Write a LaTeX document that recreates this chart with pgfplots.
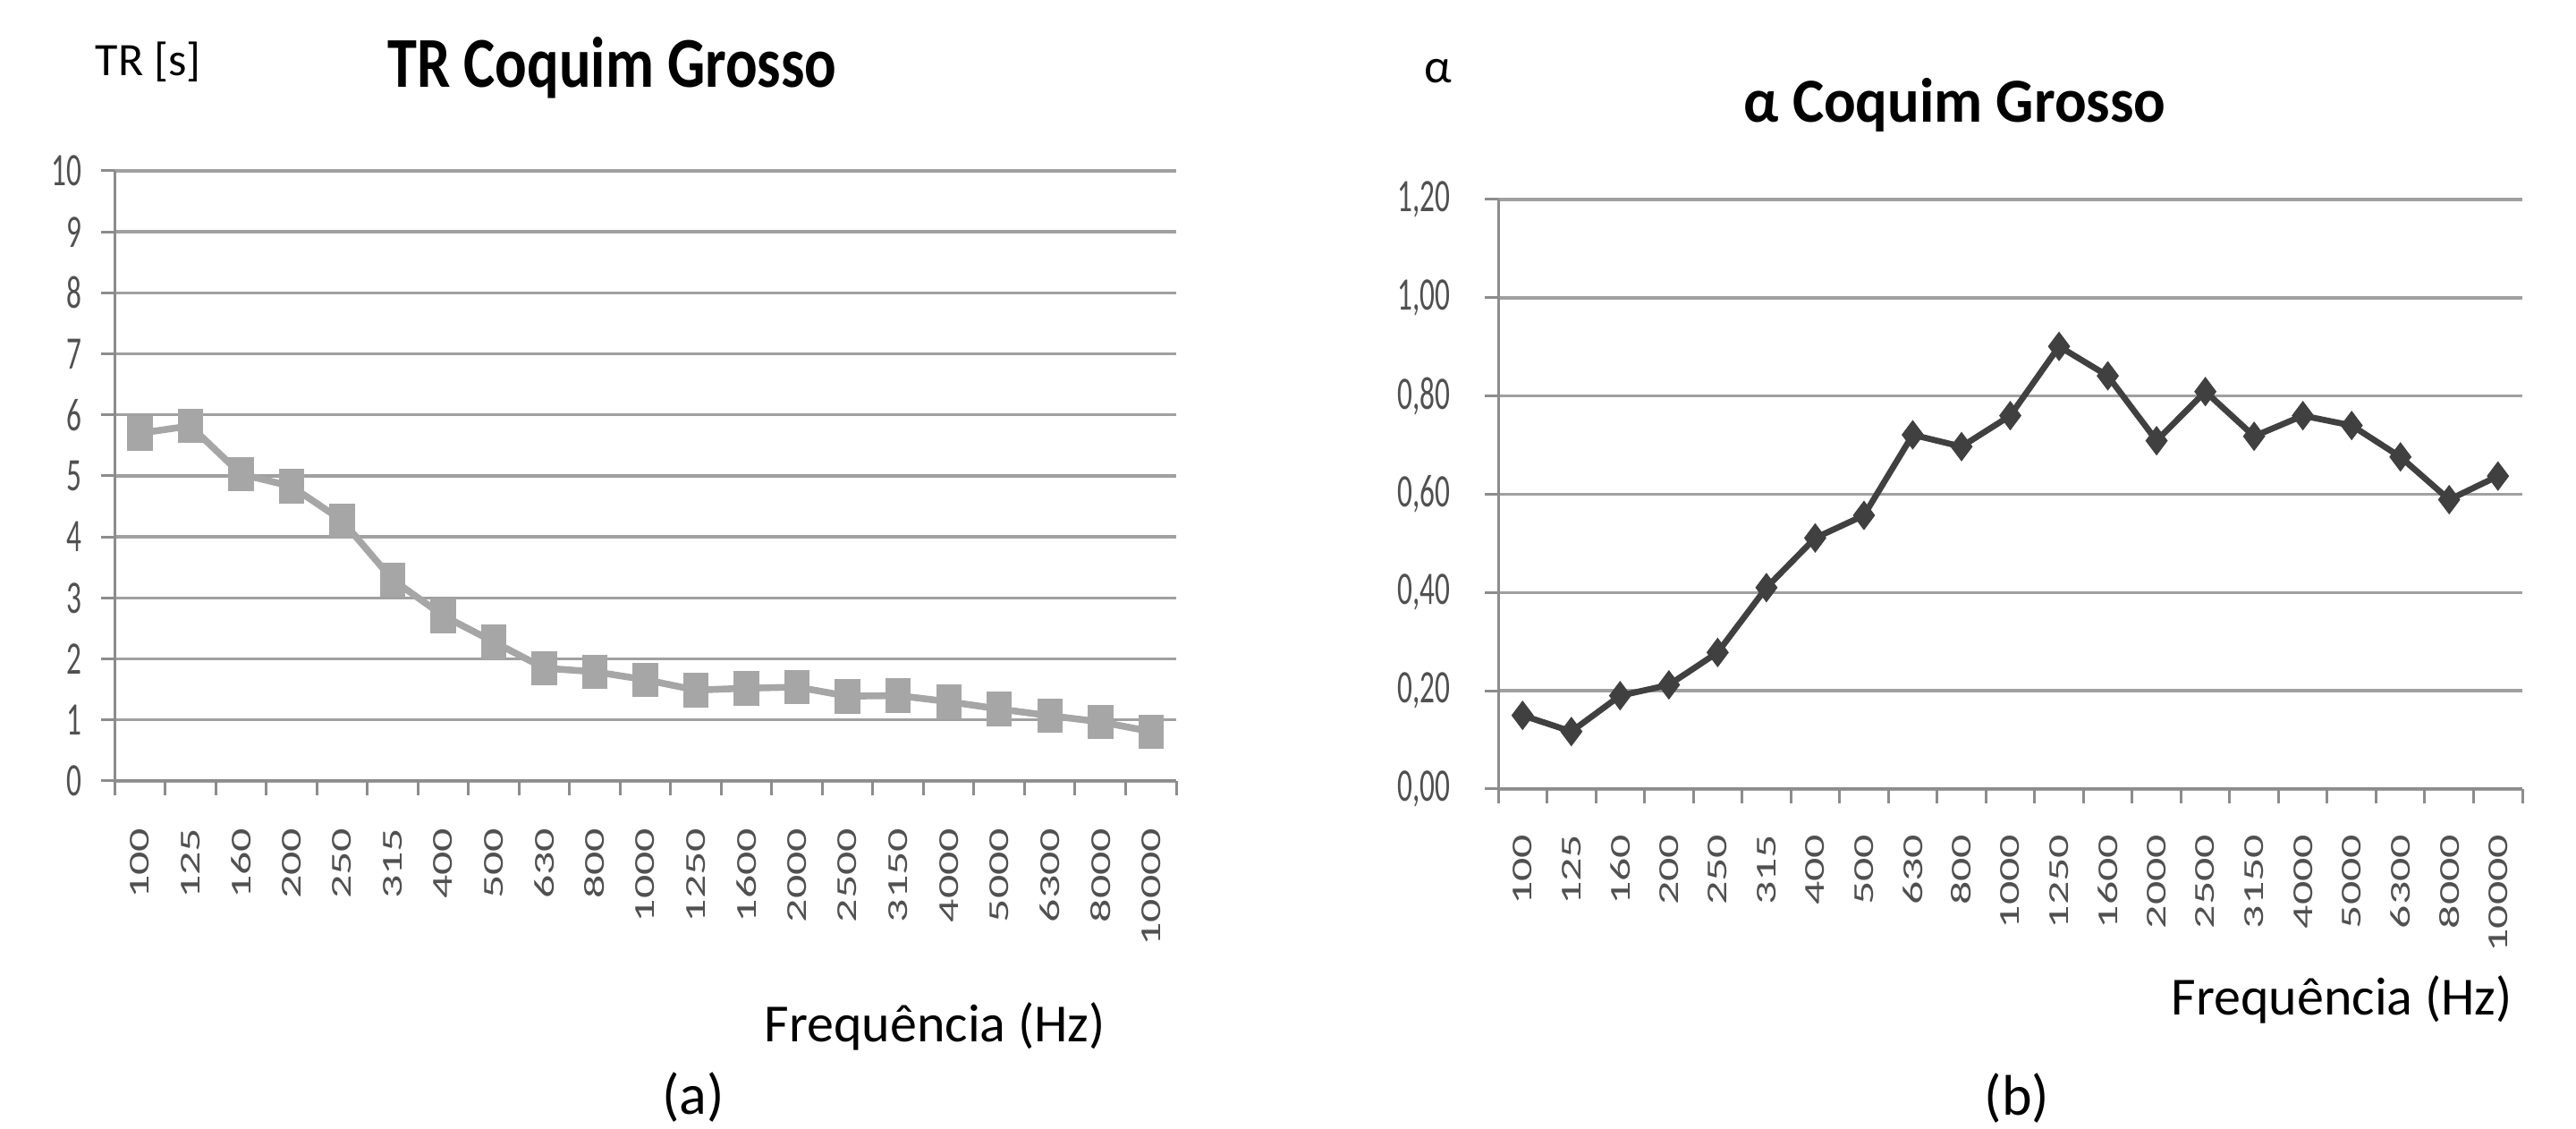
\documentclass[border=0pt]{standalone}
\usepackage{fontspec}
\setmainfont{Carlito}
\newfontfamily\tickfont[FakeStretch=0.64]{Carlito}
\newfontfamily\titleL[FakeStretch=0.83]{Carlito}
\newfontfamily\titleR[FakeStretch=0.95]{Carlito}
\usepackage{graphicx}
\usepackage{pgfplots}
\pgfplotsset{compat=1.18}
\definecolor{gridc}{HTML}{A0A0A0}
\definecolor{axisc}{HTML}{8C8C8C}
\definecolor{tickc}{HTML}{505050}
\definecolor{lineL}{HTML}{A6A6A6}
\definecolor{lineR}{HTML}{404040}
\newcommand{\xl}[1]{\scalebox{1}[0.62]{#1}}
\pgfplotsset{
  excel/.style={
    scale only axis, anchor=south west,
    axis x line=bottom, axis y line=left,
    axis line style={-, draw=axisc, line width=0.75pt},
    xmin=-0.5, xmax=20.5,
    xtick={0,...,20},
    xticklabels={\xl{100},\xl{125},\xl{160},\xl{200},\xl{250},\xl{315},\xl{400},\xl{500},\xl{630},\xl{800},\xl{1000},\xl{1250},\xl{1600},\xl{2000},\xl{2500},\xl{3150},\xl{4000},\xl{5000},\xl{6300},\xl{8000},\xl{10000}},
    major tick length=0pt,
    xticklabel style={rotate=90, anchor=east, inner sep=0pt, font=\fontsize{13}{15}\selectfont, text=tickc},
    yticklabel style={anchor=east, inner sep=0pt, font=\tickfont\fontsize{13}{15}\selectfont, text=tickc},
    ymajorgrids, grid style={draw=gridc, line width=0.85pt},
    extra x ticks={-0.5,0.5,1.5,2.5,3.5,4.5,5.5,6.5,7.5,8.5,9.5,10.5,11.5,12.5,13.5,14.5,15.5,16.5,17.5,18.5,19.5,20.5},
    extra x tick labels={},
    extra x tick style={grid=none, major tick length=4pt, tick align=outside, tick style={draw=axisc, line width=0.75pt}},
    clip=false,
  }
}
\begin{document}
\begin{tikzpicture}
\useasboundingbox (0,0) rectangle (720pt,315.5pt);
% Left chart
\begin{axis}[excel, at={(32pt,97.25pt)}, width=296.75pt, height=170.5pt,
  ymin=0, ymax=10, ytick={0,1,...,10},
  yticklabels={0,1,2,3,4,5,6,7,8,9,10},
  xticklabel shift=13pt, yticklabel shift=9pt,
  extra y ticks={0,1,...,10}, extra y tick labels={},
  extra y tick style={grid=none, major tick length=3.75pt, tick align=outside, tick style={draw=axisc, line width=0.75pt}},
]
\addplot[color=lineL, line width=1.9pt, mark=square*, mark size=4.7pt,
  mark options={xscale=0.73, fill=lineL, draw=lineL, line width=0.2pt}]
  coordinates {(0,5.70) (1,5.82) (2,5.03) (3,4.83) (4,4.27) (5,3.30) (6,2.71) (7,2.28) (8,1.85) (9,1.79) (10,1.66) (11,1.49) (12,1.52) (13,1.54) (14,1.39) (15,1.40) (16,1.30) (17,1.18) (18,1.07) (19,0.97) (20,0.81)};
\end{axis}
% Right chart
\begin{axis}[excel, at={(418.75pt,95pt)}, width=286.25pt, height=164.75pt,
  ymin=0, ymax=1.2, ytick={0,0.2,0.4,0.6,0.8,1.0,1.2},
  yticklabels={{0,00},{0,20},{0,40},{0,60},{0,80},{1,00},{1,20}},
  xticklabel shift=12.5pt, yticklabel shift=13.25pt,
  extra y ticks={0,0.2,0.4,0.6,0.8,1.0,1.2}, extra y tick labels={},
  extra y tick style={grid=none, major tick length=3.75pt, tick align=outside, tick style={draw=axisc, line width=0.75pt}},
]
\addplot[color=lineR, line width=1.7pt, mark=diamond*, mark size=3.9pt,
  mark options={fill=lineR, draw=lineR, line width=0.3pt}]
  coordinates {(0,0.15) (1,0.117) (2,0.19) (3,0.212) (4,0.278) (5,0.41) (6,0.511) (7,0.557) (8,0.721) (9,0.697) (10,0.76) (11,0.901) (12,0.841) (13,0.709) (14,0.809) (15,0.718) (16,0.76) (17,0.74) (18,0.676) (19,0.589) (20,0.637)};
\end{axis}
% Texts
\node[anchor=base west, inner sep=0pt, font=\fontsize{13}{15}\selectfont] at (26.5pt,294.25pt) {TR [s]};
\node[anchor=base, inner sep=0pt, font=\titleL\bfseries\fontsize{20}{24}\selectfont] at (171.1pt,291pt) {TR Coquim Grosso};
\node[anchor=base west, inner sep=0pt, font=\fontsize{15}{18}\selectfont] at (213.5pt,24.25pt) {Frequência (Hz)};
\node[inner sep=0pt, font=\fontsize{16}{19}\selectfont] at (193.75pt,8.75pt) {(a)};
\node[anchor=base west, inner sep=0pt, font=\fontsize{13.5}{16}\selectfont] at (398pt,292.25pt) {α};
\node[anchor=base, inner sep=0pt, font=\titleR\bfseries\fontsize{17.5}{21}\selectfont] at (546.4pt,281.25pt) {α Coquim Grosso};
\node[anchor=base west, inner sep=0pt, font=\fontsize{15}{18}\selectfont] at (606.75pt,31.75pt) {Frequência (Hz)};
\node[inner sep=0pt, font=\fontsize{16}{19}\selectfont] at (563.75pt,8.5pt) {(b)};
\end{tikzpicture}
\end{document}
